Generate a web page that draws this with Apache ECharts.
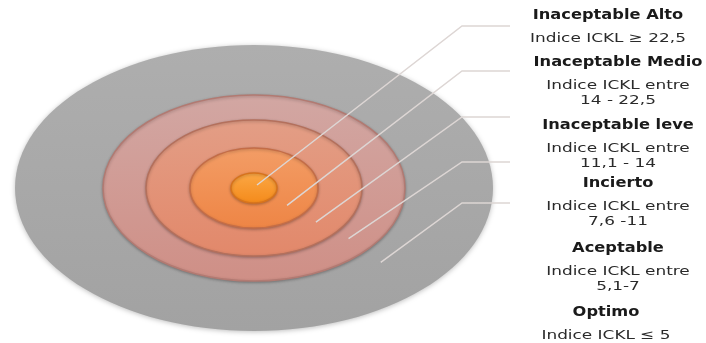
<!DOCTYPE html>
<html>
<head>
<meta charset="utf-8">
<script src="https://cdn.jsdelivr.net/npm/echarts@6/dist/echarts.min.js"></script>
<style>
  html, body { margin: 0; padding: 0; background: #fff; }
  #diana { width: 706px; height: 343px; }
</style>
</head>
<body>
<div id="diana"></div>
<script>
// niveles de riesgo, del centro hacia afuera
var niveles = ['Inaceptable Alto', 'Inaceptable Medio', 'Inaceptable leve', 'Incierto', 'Aceptable', 'Optimo'];
var rangos = [
    ['Indice ICKL ≥ 22,5'],
    ['Indice ICKL entre', '14 - 22,5'],
    ['Indice ICKL entre', '11,1 - 14'],
    ['Indice ICKL entre', '7,6 -11'],
    ['Indice ICKL entre', '5,1-7'],
    ['Indice ICKL ≤ 5']
];
// radios de cada zona (el ultimo nivel queda fuera de los anillos)
var radioX = [2.3, 6.4, 10.8, 15.1, 23.9];
var radioY = [1.5, 4.0, 6.8, 9.3, 14.3];

// colores de los anillos (arriba / abajo / borde)
var colores = [
    ['#fba846', '#f48a1a', '#d7731c'],
    ['#f39d66', '#ee8545', '#c46d47'],
    ['#e39e86', '#e2886a', '#b4705c'],
    ['#d2a7a3', '#cf8f86', '#b27a72'],
    ['#aeaeae', '#a2a2a2', '#9a9a9a']
];

// guias: arranque (fraccion del radio medio), codo y final en unidades del eje
var guiaK = [0, 0.76, 0.72, 0.73, 0.65];
var guiaCodoX = 20.8, guiaFinX = 25.6;
var guiaY = [16.2, 11.7, 7.1, 2.6, -1.5];
// etiquetas en px
var etiquetaX = [608, 618, 618, 618, 618, 606];
var etiquetaY = [15, 62, 125, 183, 248, 312];

var myChart = echarts.init(document.getElementById('diana'));

var anillos = [];
for (var i = radioX.length - 1; i >= 0; i--) anillos.push([i]);
var etiquetas = niveles.map(function (n, i) { return [i]; });

function renderAnillo(params, api) {
    var i = api.value(0);
    var c = api.coord([0, 0]);
    var rx = api.size([radioX[i], 0])[0];
    var ry = api.size([0, radioY[i]])[1];
    var col = colores[i];
    return {
        type: 'ellipse',
        shape: { cx: c[0], cy: c[1], rx: rx, ry: ry },
        style: {
            fill: new echarts.graphic.LinearGradient(0, 0, 0, 1, [
                { offset: 0, color: col[0] },
                { offset: 1, color: col[1] }
            ]),
            stroke: col[2],
            lineWidth: i === 4 ? 0 : 1.5,
            shadowBlur: i === 4 ? 5 : 3,
            shadowColor: 'rgba(0,0,0,0.25)',
            shadowOffsetY: 1
        }
    };
}

function renderEtiqueta(params, api) {
    var i = api.value(0);
    var hijos = [];
    if (i < radioX.length) {
        var rin = i === 0 ? 0 : radioX[i - 1];
        var rinY = i === 0 ? 0 : radioY[i - 1];
        var mx = (rin + radioX[i]) / 2, my = (rinY + radioY[i]) / 2;
        var p0 = api.coord(i === 0 ? [0.3, 0.3] : [mx * guiaK[i], -my * 0.63]);
        var p1 = api.coord([guiaCodoX, guiaY[i]]);
        var p2 = api.coord([guiaFinX, guiaY[i]]);
        hijos.push({
            type: 'polyline',
            shape: { points: [p0, p1, p2] },
            style: { stroke: '#ddd6d4', lineWidth: 1.5, fill: null }
        });
    }
    hijos.push({
        type: 'text',
        x: etiquetaX[i], y: etiquetaY[i],
        scaleX: 1.16,
        style: {
            x: 0, y: 0,
            text: niveles[i],
            font: 'bold 14px "DejaVu Sans"',
            fill: '#1a1a1a',
            align: 'center', verticalAlign: 'middle'
        }
    });
    hijos.push({
        type: 'text',
        x: etiquetaX[i], y: etiquetaY[i] + 16,
        scaleX: 1.3,
        style: {
            x: 0, y: 0,
            text: rangos[i].join('\n'),
            font: '13px "DejaVu Sans"',
            lineHeight: 15,
            fill: '#2a2a2a',
            align: 'center', verticalAlign: 'top'
        }
    });
    return { type: 'group', children: hijos };
}

option = {
    animation: false,
    grid: { left: 0, right: 0, top: 0, bottom: 0 },
    xAxis: { type: 'value', min: -25.4, max: 45.2, show: false },
    yAxis: { type: 'value', min: -15.5, max: 18.8, show: false },
    series: [
        {
            name: 'zonas',
            type: 'custom',
            renderItem: renderAnillo,
            data: anillos,
            silent: true
        },
        {
            name: 'etiquetas',
            type: 'custom',
            renderItem: renderEtiqueta,
            data: etiquetas,
            silent: true,
            z: 3
        }
    ]
};
myChart.setOption(option);
</script>
</body>
</html>
